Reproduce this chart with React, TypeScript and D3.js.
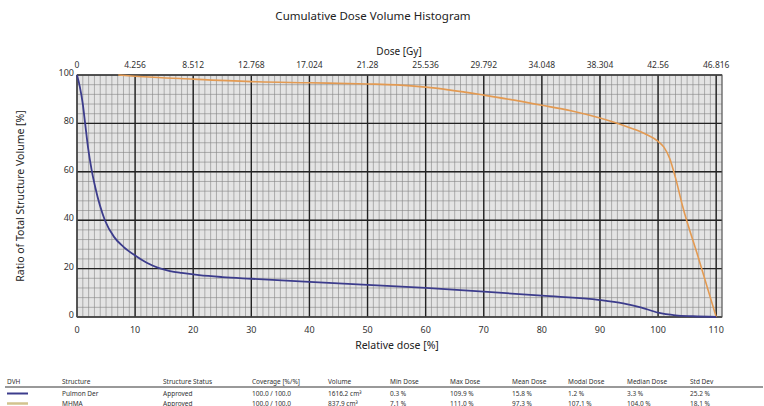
import React from "react";
import * as d3 from "d3";

const relTicks = [0, 10, 20, 30, 40, 50, 60, 70, 80, 90, 100, 110];
const doseLabels = ["0", "4.256", "8.512", "12.768", "17.024", "21.28", "25.536", "29.792", "34.048", "38.304", "42.56", "46.816"];
const volTicks = [0, 20, 40, 60, 80, 100];

const blueX = [0, 0.5, 1, 1.4, 1.9, 2.5, 3.2, 4.8, 6.4, 8, 10, 12, 14, 16, 18, 21, 25, 30, 40, 50, 60, 70, 80, 90, 94, 97, 100, 103, 106, 110];
const blueY = [100, 95, 88, 80, 70, 61, 53, 40, 33, 29, 25.4, 22.4, 20.3, 19, 18.2, 17.3, 16.5, 15.8, 14.5, 13.3, 12, 10.5, 8.8, 7, 5.6, 4, 1.8, 0.7, 0.3, 0];

const orangeX = [7.1, 10, 20, 31, 40, 50, 55, 60, 70, 80, 85, 90, 95, 98, 100, 101, 102, 103, 104.2, 107, 110];
const orangeY = [100, 99.5, 98.3, 97.2, 96.8, 96.3, 95.9, 95, 91.7, 87.5, 85.2, 82.2, 78.3, 75.4, 72.6, 70.2, 65.5, 57.5, 46, 24, 0];

const tableHeaders = ["DVH", "Structure", "Structure Status", "Coverage [%/%]", "Volume", "Min Dose", "Max Dose", "Mean Dose", "Modal Dose", "Median Dose", "Std Dev"];
const row1 = ["", "Pulmon Der", "Approved", "100.0 / 100.0", "1616.2 cm³", "0.3 %", "109.9 %", "15.8 %", "1.2 %", "3.3 %", "25.2 %"];
const row2 = ["", "MHMA", "Approved", "100.0 / 100.0", "837.9 cm³", "7.1 %", "111.0 %", "97.3 %", "107.1 %", "104.0 %", "18.1 %"];
const colX = [7, 62, 163, 252, 328, 390, 450, 512, 568, 627, 690];

const W = 764, H = 406;
const L = 77, R = 722, T = 75, B = 317;
const FONT = "'Noto Sans', 'Open Sans', sans-serif";

export default function App() {
  const x = d3.scaleLinear().domain([0, 111]).range([L, R]);
  const y = d3.scaleLinear().domain([0, 100]).range([B, T]);
  const minorX = d3.range(0, 112, 1);
  const minorY = d3.range(0, 101, 4);
  const line = d3.line<[number, number]>().x(d => x(d[0])).y(d => y(d[1])).curve(d3.curveMonotoneX);
  const blue = blueX.map((v, i) => [v, blueY[i]] as [number, number]);
  const orange = orangeX.map((v, i) => [v, orangeY[i]] as [number, number]);

  return (
    <svg width={W} height={H} style={{ position: "absolute", left: 0, top: 0, background: "#fff" }} fontFamily={FONT}>
      <text x={373} y={20} textAnchor="middle" fontSize={11.5} fill="#222">Cumulative Dose Volume Histogram</text>
      <text x={399} y={55} textAnchor="middle" fontSize={10} fill="#222">Dose [Gy]</text>
      <rect x={L} y={T} width={R - L} height={B - T} fill="#e4e4e4" />
      {minorX.map(v => (
        <line key={"mx" + v} x1={x(v)} x2={x(v)} y1={T} y2={B} stroke="#858585" strokeWidth={0.6} />
      ))}
      {minorY.map(v => (
        <line key={"my" + v} x1={L} x2={R} y1={y(v)} y2={y(v)} stroke="#858585" strokeWidth={0.6} />
      ))}
      {relTicks.map(v => (
        <line key={"Mx" + v} x1={x(v)} x2={x(v)} y1={T} y2={B} stroke="#222" strokeWidth={1.4} />
      ))}
      {volTicks.map(v => (
        <line key={"My" + v} x1={L} x2={R} y1={y(v)} y2={y(v)} stroke="#222" strokeWidth={1.4} />
      ))}
      <rect x={L} y={T} width={R - L} height={B - T} fill="none" stroke="#555" strokeWidth={1} />
      <path d={line(orange) || ""} fill="none" stroke="#e39a52" strokeWidth={1.6} />
      <path d={line(blue) || ""} fill="none" stroke="#3c3c8c" strokeWidth={1.8} />
      {relTicks.map(v => (
        <text key={"bt" + v} x={x(v)} y={B + 16} textAnchor="middle" fontSize={9} fill="#333">{v}</text>
      ))}
      {relTicks.map((v, i) => (
        <text key={"tt" + v} x={x(v)} y={T - 7} textAnchor="middle" fontSize={8.5} fill="#333">{doseLabels[i]}</text>
      ))}
      {volTicks.map(v => (
        <text key={"yt" + v} x={L - 3} y={y(v) + 1} textAnchor="end" fontSize={9} fill="#333">{v}</text>
      ))}
      <text x={397} y={349} textAnchor="middle" fontSize={10.5} fill="#222">Relative dose [%]</text>
      <text transform={`translate(24,${(T + B) / 2}) rotate(-90)`} textAnchor="middle" fontSize={10.5} fill="#222">Ratio of Total Structure Volume [%]</text>
      {tableHeaders.map((h, i) => (
        <text key={"h" + i} x={colX[i]} y={384} fontSize={6.5} fill="#333">{h}</text>
      ))}
      <line x1={5} x2={763} y1={387} y2={387} stroke="#999" strokeWidth={2} />
      <line x1={7} x2={28} y1={393.5} y2={393.5} stroke="#3c3c8c" strokeWidth={2} />
      <line x1={7} x2={28} y1={403.5} y2={403.5} stroke="#d2c38e" strokeWidth={2.5} />
      {row1.map((t, i) => (
        <text key={"r1" + i} x={colX[i]} y={396} fontSize={6.5} fill="#333">{t}</text>
      ))}
      {row2.map((t, i) => (
        <text key={"r2" + i} x={colX[i]} y={405.5} fontSize={6.5} fill="#333">{t}</text>
      ))}
    </svg>
  );
}
